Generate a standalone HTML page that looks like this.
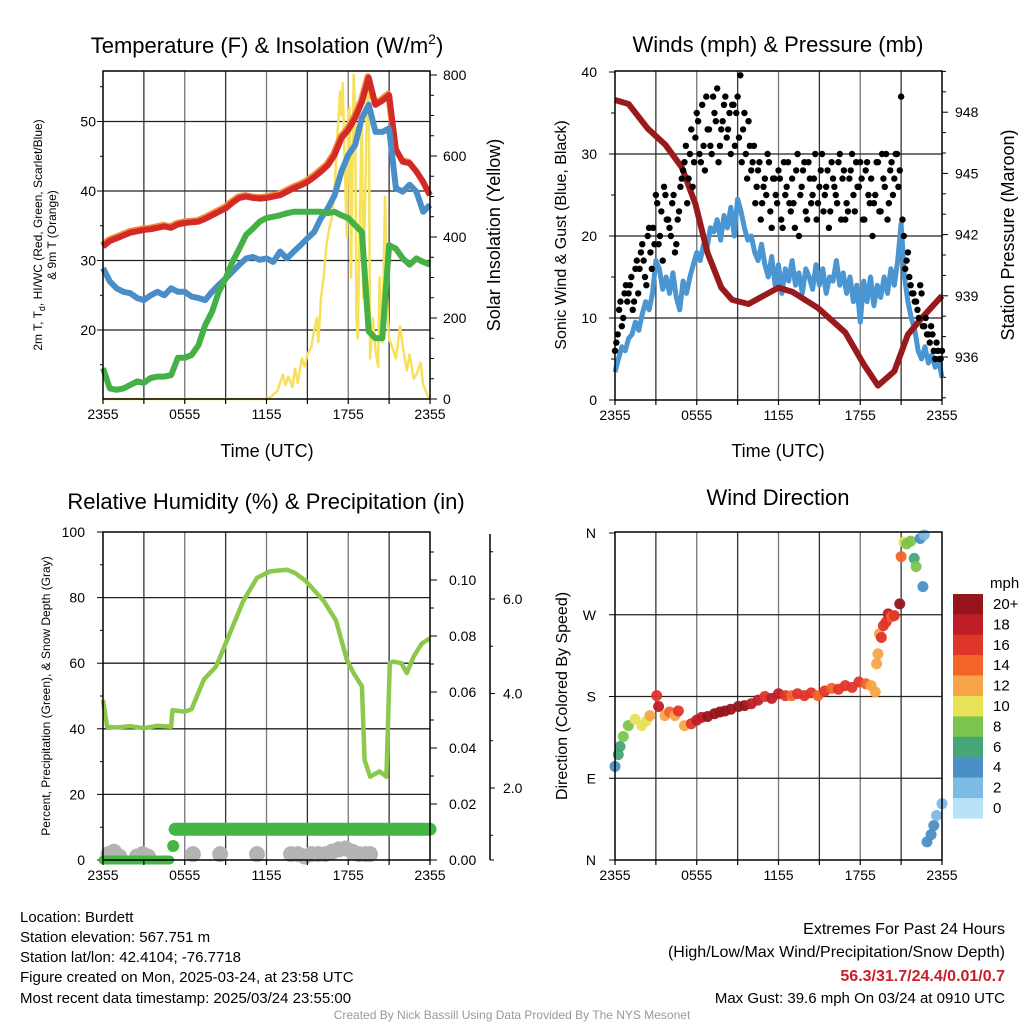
<!DOCTYPE html>
<html><head><meta charset="utf-8"><style>
html,body{margin:0;padding:0;background:#fff;}
svg{display:block;font-family:"Liberation Sans",Arial,sans-serif;}
</style></head><body>
<svg id="root" width="1024" height="1024" viewBox="0 0 1024 1024" xmlns="http://www.w3.org/2000/svg">
<rect width="1024" height="1024" fill="#fff"/>
<!-- titles -->
<text x="267" y="53" font-size="22" text-anchor="middle">Temperature (F) &amp; Insolation (W/m<tspan font-size="14" dy="-9">2</tspan><tspan dy="9">)</tspan></text>
<text x="778" y="52" font-size="22" text-anchor="middle">Winds (mph) &amp; Pressure (mb)</text>
<text x="266" y="509" font-size="22" text-anchor="middle">Relative Humidity (%) &amp; Precipitation (in)</text>
<text x="778" y="505" font-size="22" text-anchor="middle">Wind Direction</text>
<!-- axis titles -->
<text x="267" y="457" font-size="18" text-anchor="middle">Time (UTC)</text>
<text x="778" y="457" font-size="18" text-anchor="middle">Time (UTC)</text>
<text transform="translate(42,235) rotate(-90)" font-size="12" text-anchor="middle">2m T, T<tspan font-size="9" dy="3">d</tspan><tspan dy="-3">, HI/WC (Red, Green, Scarlet/Blue)</tspan></text>
<text transform="translate(56,235) rotate(-90)" font-size="12" text-anchor="middle">&amp; 9m T (Orange)</text>
<text transform="translate(500,235) rotate(-90)" font-size="18" text-anchor="middle">Solar Insolation (Yellow)</text>
<text transform="translate(566,235) rotate(-90)" font-size="16" text-anchor="middle">Sonic Wind &amp; Gust (Blue, Black)</text>
<text transform="translate(1014,235) rotate(-90)" font-size="18" text-anchor="middle">Station Pressure (Maroon)</text>
<text transform="translate(50,696) rotate(-90)" font-size="12" text-anchor="middle">Percent, Precipitation (Green), &amp; Snow Depth (Gray)</text>
<text transform="translate(567,696) rotate(-90)" font-size="16" text-anchor="middle">Direction (Colored By Speed)</text>
<!-- colorbar label -->
<text x="990" y="588" font-size="15">mph</text>
<!-- bottom text -->
<g font-size="15">
<text x="20" y="922">Location: Burdett</text>
<text x="20" y="942">Station elevation: 567.751 m</text>
<text x="20" y="962">Station lat/lon: 42.4104; -76.7718</text>
<text x="20" y="982">Figure created on Mon, 2025-03-24, at 23:58 UTC</text>
<text x="20" y="1003">Most recent data timestamp: 2025/03/24 23:55:00</text>
</g>
<g font-size="16" text-anchor="end">
<text x="1005" y="934">Extremes For Past 24 Hours</text>
<text x="1005" y="957">(High/Low/Max Wind/Precipitation/Snow Depth)</text>
<text x="1005" y="981" fill="#c8202a" font-weight="bold">56.3/31.7/24.4/0.01/0.7</text>
<text x="1005" y="1003" font-size="15">Max Gust: 39.6 mph On 03/24 at 0910 UTC</text>
</g>
<text x="512" y="1019" font-size="12" fill="#999" text-anchor="middle">Created By Nick Bassill Using Data Provided By The NYS Mesonet</text>
<g id="layer"></g>
</svg>
<script>
// ---------- data ----------
const timeTickLabels = ["2355","0555","1155","1755","2355"];
const tempTicks = [20,30,40,50];
const solarTicks = [0,200,400,600,800];
const windTicks = [0,10,20,30,40];
const pressTicks = [936,939,942,945,948];
const rhTicks = [0,20,40,60,80,100];
const precipTicks = ["0.00","0.02","0.04","0.06","0.08","0.10"];
const snowTicks = ["2.0","4.0","6.0"];
const dirTicks = ["N","E","S","W","N"];
const speedBins = ["20+","18","16","14","12","10","8","6","4","2","0"];
const speedColors = ["#96151c","#bf1e26","#e0352b","#f26428","#f7a547","#e7e257","#7cc44d","#45a676","#4a8fc6","#7dbbe5","#b8e2f7"];

// temperature series, half-hour steps from 2355
const tempRed = [32,32.8,33.2,33.6,34,34.2,34.4,34.5,34.7,34.9,34.7,35.2,35.4,35.5,35.6,36,36.5,37,37.5,38.3,39,39.2,39,38.9,39,39.2,39.4,39.9,40.4,40.8,41.3,42,42.8,43.7,45.2,47.6,48.8,50.5,52.8,56.3,52.4,53,53.8,46,44.2,44,42.8,41.3,39.4];
const tempBlue = [28.9,27,26,25.5,25.3,24.6,24.3,25,25.5,25,26,25.5,25.5,24.8,24.6,24.3,25.5,26.5,27.4,28.4,29.4,30.3,30.5,30.1,30.3,29.8,31.3,30.3,31.3,32.2,33.2,34.1,36.1,37.5,39.4,42.8,45.2,46.6,50.5,52.4,48.5,48.5,49,40.4,39.9,40.9,39.9,37,38];
const tempGreen = [14.5,11.6,11.4,11.6,12.1,12.6,12.4,13.1,13.3,13.3,13.5,16,16,16.4,17.8,20.7,22.6,25.5,27.4,29.8,31.7,33.7,34.6,35.6,36.1,36.3,36.5,36.8,37,37,37,37,37,36.8,37,36.5,36.1,35.1,34.1,19.8,18.8,18.8,32.2,31.7,30.3,29.4,30.3,29.8,29.4];
const solarTimes = [0,12,12.3,12.8,13,13.2,13.4,13.6,13.9,14.1,14.3,14.6,14.8,15,15.3,15.5,15.7,15.8,16,16.2,16.4,16.6,16.8,17,17.2,17.4,17.5,17.6,17.7,17.9,18,18.1,18.2,18.4,18.5,18.6,18.7,18.9,19,19.1,19.3,19.4,19.5,19.6,19.8,20,20.2,20.3,20.5,20.7,20.8,20.9,21,21.3,21.5,21.8,22,22.3,22.5,22.8,23,23.3,23.5,23.8,24];
const solarVals = [0,0,5,20,40,60,35,55,30,75,40,100,80,110,130,170,200,140,250,300,380,420,450,520,650,760,700,780,620,400,700,720,300,800,720,200,150,550,700,250,600,800,780,100,200,120,80,300,140,500,350,200,150,120,100,180,130,70,110,50,60,90,35,10,0];

// wind (quarter-hour steps), gusts (0.2 h steps, two interleaved samples)
const windSpeed = [3.4,5,6.5,6,7.5, 8,9.5,8.5,10.5, 12,11,13,17, 16,13.5,15,13, 15.5,12.5,11,14.5, 13,15,16.5,18, 17,19,18.5,21, 20.5,22,19.5,22.5, 21,23.5,20,24.5, 23,21,19.5,20, 18,17,19,16.5, 15,17.5,14,16.5, 13,16,14.5,17, 14,15.5,13,16, 15,13.5,16.5,14, 16,13,15,14.5, 17,14,15.5,13, 15,12,14,9.5, 14.5,12,15,11.5, 14,12.5,15,13, 16,14,17,21.5, 15,12,10,8.5, 6,5,6.5,4.5, 5.5,4,5,2.7];
const windGust = [6,8,12,10,14,13, 15,12,17,16,19, 15,20,18,21,25, 19,23,26,22,21, 24,18,22,26,28, 31,27,33,29,35, 30,36,28,33,31, 37,34,29,33,36, 32,35,36,31,37, 39.6,33,30,34,28, 31,26,29,24,27, 30,23,27,25,28, 22,29,26,24,27, 21,30,25,28,23, 29,24,27,22,26, 30,25,28,23,27, 25,29,22,28,24, 27,30,23,26,29, 22,28,25,27,24, 29,23,30,26,22, 28,25,30,26,37, 20,17,15,13,12, 11,14,9,10,8, 9,6,7,5,6];
const windGust2 = [7,11,9,13,12, 14,11,16,13,18, 17,14,21,16,19, 24,20,17,25,22, 20,25,19,23,27, 29,24,30,26,32, 34,29,31,37,33, 30,35,38,31,34, 37,33,30,36,35, 32,29,35,27,31, 29,24,28,22,26, 25,29,21,27,24, 27,21,25,29,23, 24,28,20,26,29, 22,27,25,30,24, 28,23,26,21,29, 26,24,30,27,22, 23,28,25,29,26, 27,22,29,24,20, 25,29,23,27,30, 24,29,27,30,28, 22,16,18,14,13, 12,10,13,9,8, 7,8,5,6,5];
const pressTimes = [0,1,2.4,3.7,4.9,5.9,6.8,7.8,8.6,9.8,12,13,14.9,16.9,18.3,19.3,20.5,21.5,22.5,24];
const pressVals = [948.6,948.4,947.2,946.4,945.3,943.5,941.1,939.4,938.8,938.6,939.4,939.2,938.4,937.2,935.6,934.6,935.3,937.1,937.9,939];

// RH / precip / snow
const rhTimes = [0,0.3,1,2,3,4,5,5.1,6,6.5,7.4,8.3,9.3,10.3,11.3,12.25,13.5,14.1,14.9,16.2,17.1,17.9,18.4,19,19.2,19.6,20.3,20.8,21.05,21.3,21.9,22.3,22.8,23.4,24];
const rhVals = [48.8,40.6,40.4,40.8,40.2,40.9,40.6,45.7,45.2,46,55,59,69,79,86,88,88.5,87.5,85,79,73,61,56.9,53,30.5,25.4,27,25.4,60,60.5,60,57,62,66,67.6];
const precipTimes = [0,1,2,3,4,4.9,5.15,5.3,8,12,16,20,24];
const precipVals = [0,0,0,0,0,0,0.005,0.011,0.011,0.011,0.011,0.011,0.011];
const snowTimes = [0.4,0.8,1.2,2.5,2.9,3.3,6.6,8.6,11.3,13.8,14.3,14.8,15.3,15.8,16.3,16.8,17.3,17.8,18.3,18.8,19.3,19.6];
const snowVals = [0.6,0.65,0.55,0.55,0.6,0.55,0.6,0.6,0.6,0.6,0.6,0.55,0.6,0.6,0.6,0.65,0.7,0.72,0.65,0.6,0.6,0.6];

// wind direction
const dirTimes = [0,0.24,0.37,0.61,0.98,1.47,1.96,2.3,2.57,3.06,3.2,3.67,4.0,4.4,4.65,5.1,5.6,6.0,6.36,6.8,7.3,7.7,8.07,8.5,9.05,9.5,10.0,10.5,11.0,11.5,12.0,12.5,12.96,13.4,13.9,14.4,14.9,15.4,15.9,16.4,16.9,17.4,17.9,18.4,18.8,19.1,19.2,19.3,19.4,19.55,19.7,19.9,20.05,20.3,20.5,20.9,21.0,21.2,21.4,21.7,21.96,22.1,22.4,22.6,22.7,22.9,23.2,23.4,23.6,24];
const dirVals = [103,116,125,136,148,155,148,153,159,181,169,159,163,159,164,148,150,154,157,158,161,163,164,166,169,170,172,176,180,178,183,181,181,183,181,184,181,186,189,188,192,190,196,194,192,185,216,227,249,245,258,262,271,268,269,282,334,350,348,351,332,323,354,301,358,20,28,38,49,62];
const dirSpeed = [5,6,7,8,9,10,10,11,12,16,18,13,14,13,16,12,17,18,19,20,20,21,20,20,20,20,19,19,17,18,18,16,15,17,17,16,15,16,14,16,16,17,16,15,12,13,12,13,12,16,17,16,18,14,17,20,14,11,9,8,7,8,5,5,3,4,4,4,3,3];

// ---------- helpers ----------
const NS = "http://www.w3.org/2000/svg";
const layer = document.getElementById("layer");
function mk(tag, attrs, parent){
  const e = document.createElementNS(NS, tag);
  for (const k in attrs) e.setAttribute(k, attrs[k]);
  (parent||layer).appendChild(e);
  return e;
}
function txt(x,y,s,size,anchor,parent){
  const e = mk("text",{x:x,y:y,"font-size":size,"text-anchor":anchor||"middle"},parent);
  e.textContent = s;
  return e;
}
function pathFrom(xs, ys){
  let d="";
  for(let i=0;i<xs.length;i++){ d += (i?"L":"M")+xs[i].toFixed(1)+","+ys[i].toFixed(1); }
  return d;
}

// scales
const P1={x0:103,x1:430,y0:71,y1:399};
const P2={x0:615,x1:942,y0:71,y1:400};
const P3={x0:103,x1:430,y0:532,y1:860};
const P4={x0:615,x1:942,y0:532,y1:860};
const xT = (p,t)=> p.x0 + t*(p.x1-p.x0)/24;
const yTemp = v => 330 - (v-20)*6.95;
const ySolar = w => 399 - w*0.405;
const yWind = v => 400 - v*8.2;
const yPress = p => 357 - (p-936)*20.4;
const yRH = v => 860 - v*3.28;
const yPrecip = v => 860 - v*2800;
const ySnow = v => 882.5 - v*47.25;
const yDir = d => 860 - d*327/360;

function grid(p, hVals, name){
  const g = mk("g",{});
  
  
  for(let i=1;i<8;i++){
    const x = p.x0 + i*(p.x1-p.x0)/8;
    mk("line",{x1:x,x2:x,y1:p.y0,y2:p.y1,stroke:i%2?"#333":"#777","stroke-width":1.3},g);
  }
  hVals.forEach(y=>mk("line",{x1:p.x0,x2:p.x1,y1:y,y2:y,stroke:"#222","stroke-width":1.3},g));
}
function frame(p,name){
  const r = mk("rect",{x:p.x0,y:p.y0,width:p.x1-p.x0,height:p.y1-p.y0,fill:"none",stroke:"#000","stroke-width":1.5});
  
  
}
function xAxis(p,name){
  const g = mk("g",{});
  
  
  for(let i=0;i<=8;i++){
    const x = p.x0 + i*(p.x1-p.x0)/8;
    mk("line",{x1:x,x2:x,y1:p.y1,y2:p.y1+5,stroke:"#000","stroke-width":1.2},g);
  }
  timeTickLabels.forEach((s,i)=>{ txt(p.x0+i*(p.x1-p.x0)/4, p.y1+20, s, 14, "middle", g); });
}

// ---------- panel 1: temperature ----------
grid(P1, tempTicks.map(yTemp), "temp");
{
  const g = mk("g",{});
  
  
  tempTicks.forEach(v=>{ txt(96, yTemp(v)+5, String(v), 14, "end", g); mk("line",{x1:97,x2:103,y1:yTemp(v),y2:yTemp(v),stroke:"#000"},g); });
  [15,25,35,45,55].forEach(v=>mk("line",{x1:100,x2:103,y1:yTemp(v),y2:yTemp(v),stroke:"#000"},g));
  const g2 = mk("g",{});
  
  
  for(let w=0;w<=800;w+=50){ mk("line",{x1:430,x2:w%200?434:437,y1:ySolar(w),y2:ySolar(w),stroke:"#000"},g2); }
  solarTicks.forEach(w=>txt(443, ySolar(w)+5, String(w), 14, "start", g2));
}
const tHalf = tempRed.map((_,i)=>i*0.5);
{
  const sol = mk("path",{d:pathFrom(solarTimes.map(t=>xT(P1,t)), solarVals.map(ySolar)),fill:"none",stroke:"#f7e15a","stroke-width":2.5,"stroke-linejoin":"round"});
  
  
  const orng = mk("path",{d:pathFrom(tHalf.map(t=>xT(P1,t)), tempRed.map(yTemp)),fill:"none",stroke:"#f58a3a","stroke-width":6,"stroke-linejoin":"round",transform:"translate(-1,-1.5)"});
  
  
  const red = mk("path",{d:pathFrom(tHalf.map(t=>xT(P1,t)), tempRed.map(yTemp)),fill:"none",stroke:"#d42a27","stroke-width":6,"stroke-linejoin":"round"});
  
  
  const blue = mk("path",{d:pathFrom(tHalf.map(t=>xT(P1,t)), tempBlue.map(yTemp)),fill:"none",stroke:"#4a8ec8","stroke-width":6,"stroke-linejoin":"round"});
  
  
  const green = mk("path",{d:pathFrom(tHalf.map(t=>xT(P1,t)), tempGreen.map(yTemp)),fill:"none",stroke:"#45b045","stroke-width":6,"stroke-linejoin":"round"});
  
  
}
frame(P1,"temp"); xAxis(P1,"temp");

// ---------- panel 2: wind ----------
grid(P2, [10,20,30].map(yWind), "wind");
{
  const g = mk("g",{});
  
  
  windTicks.forEach(v=>{ txt(597, yWind(v)+5, String(v), 14, "end", g); mk("line",{x1:609,x2:615,y1:yWind(v),y2:yWind(v),stroke:"#000"},g); });
  [5,15,25,35].forEach(v=>mk("line",{x1:611,x2:615,y1:yWind(v),y2:yWind(v),stroke:"#000"},g));
  const g2 = mk("g",{});
  
  
  for(let p=934;p<=950;p++){ mk("line",{x1:942,x2:(p-936)%3?946:948,y1:yPress(p),y2:yPress(p),stroke:"#000"},g2); }
  pressTicks.forEach(p=>txt(955, yPress(p)+5, String(p), 14, "start", g2));
}
{
  const wl = mk("path",{d:pathFrom(windSpeed.map((_,i)=>xT(P2,i*0.25)), windSpeed.map(yWind)),fill:"none",stroke:"#4a96d2","stroke-width":5,"stroke-linejoin":"round"});
  
  
  const pl = mk("path",{d:pathFrom(pressTimes.map(t=>xT(P2,t)), pressVals.map(yPress)),fill:"none",stroke:"#981a1c","stroke-width":6,"stroke-linejoin":"round"});
  
  
  windGust.forEach((v,i)=>{
    const c = mk("circle",{cx:xT(P2,i*0.2),cy:yWind(v),r:3.2,fill:"#000"});
    
    
  });
  windGust2.forEach((v,i)=>{
    const c = mk("circle",{cx:xT(P2,0.1+i*0.2),cy:yWind(v),r:3.2,fill:"#000"});
    
    
  });
}
frame(P2,"wind"); xAxis(P2,"wind");

// ---------- panel 3: RH ----------
grid(P3, [20,40,60,80].map(yRH), "rh");
{
  const g = mk("g",{});
  
  
  rhTicks.forEach(v=>{ txt(85, yRH(v)+5, String(v), 14, "end", g); mk("line",{x1:97,x2:103,y1:yRH(v),y2:yRH(v),stroke:"#000"},g); });
  [10,30,50,70,90].forEach(v=>mk("line",{x1:100,x2:103,y1:yRH(v),y2:yRH(v),stroke:"#000"},g));
  const g2 = mk("g",{});
  
  
  for(let i=0;i<=11;i++){ const y=860-i*0.01*2800; mk("line",{x1:430,x2:i%2?434:437,y1:y,y2:y,stroke:"#000"},g2); }
  precipTicks.forEach(s=>txt(449, yPrecip(parseFloat(s))+5, s, 14, "start", g2));
  const g3 = mk("g",{});
  
  
  mk("line",{x1:490,x2:490,y1:534,y2:860,stroke:"#000","stroke-width":1.5},g3);
  [1,2,3,4,5,6,7].forEach(v=>mk("line",{x1:490,x2:v%2?493:495,y1:ySnow(v),y2:ySnow(v),stroke:"#000"},g3));
  mk("line",{x1:490,x2:494,y1:860,y2:860,stroke:"#000"},g3);
  snowTicks.forEach(s=>txt(503, ySnow(parseFloat(s))+5, s, 14, "start", g3));
}
{
  snowTimes.forEach((t,i)=>{
    const c = mk("circle",{cx:xT(P3,t),cy:ySnow(snowVals[i]),r:8,fill:"#b3b3b3"});
    
    
  });
  const pr = mk("g",{});
  
  
  for(let i=0;i<precipTimes.length-1;i++){
    if(precipVals[i]===precipVals[i+1]){
      mk("line",{x1:xT(P3,precipTimes[i]),x2:xT(P3,precipTimes[i+1]),y1:yPrecip(precipVals[i]),y2:yPrecip(precipVals[i]),stroke:"#45b645","stroke-width":precipVals[i]>0?13:9,"stroke-linecap":"round"},pr);
    } else {
      mk("circle",{cx:xT(P3,precipTimes[i+1]),cy:yPrecip(precipVals[i+1]),r:precipVals[i+1]>0.008?6.5:6,fill:"#45b645"},pr);
    }
  }
  const rl = mk("path",{d:pathFrom(rhTimes.map(t=>xT(P3,t)), rhVals.map(yRH)),fill:"none",stroke:"#8cc84b","stroke-width":4.5,"stroke-linejoin":"round"});
  
  
}
frame(P3,"rh"); xAxis(P3,"rh");

// ---------- panel 4: direction ----------
grid(P4, [90,180,270].map(yDir), "direction");
{
  const g = mk("g",{});
  
  
  dirTicks.forEach((s,i)=>{ txt(596, yDir(i*90)+5, s, 14, "end", g); mk("line",{x1:609,x2:615,y1:yDir(i*90),y2:yDir(i*90),stroke:"#000"},g); });
}
function speedColor(s){
  let idx = Math.min(10, Math.floor(s/2));
  return speedColors[10-idx];
}
dirTimes.forEach((t,i)=>{
  const c = mk("circle",{cx:xT(P4,t),cy:yDir(dirVals[i]),r:5.5,fill:speedColor(dirSpeed[i]),"fill-opacity":0.95});
  
  
});
frame(P4,"direction"); xAxis(P4,"direction");

// colorbar
{
  const g = mk("g",{});
  
  
  speedBins.forEach((s,i)=>{
    const r = mk("rect",{x:953,y:594+i*20.4,width:30,height:20.6,fill:speedColors[i]},g);
    
    
    txt(993, 594+i*20.4+15, s, 15, "start", g);
  });
}
</script>
</body></html>
